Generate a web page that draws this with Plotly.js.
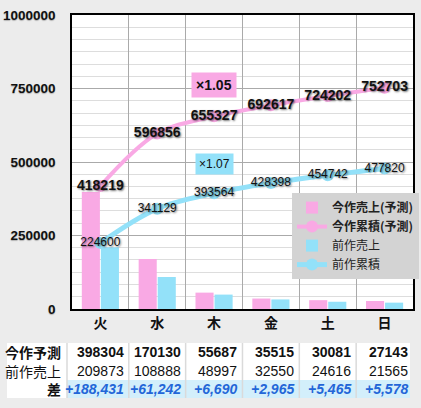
<!DOCTYPE html>
<html>
<head>
<meta charset="utf-8">
<script src="https://cdn.plot.ly/plotly-3.0.1.min.js"></script>
<style>
  html, body { margin: 0; padding: 0; background: #ececec; }
  #chart { width: 421px; height: 408px; }
</style>
</head>
<body>
<div id="chart"></div>
<script>
// 曜日
const days = ['火', '水', '木', '金', '土', '日'];

// 日別売上
const salesNow = [398304, 170130, 55687, 35515, 30081, 27143];
const salesPrev = [209873, 108888, 48997, 32550, 24616, 21565];

// 累積
const cumNow = [418219, 596856, 655327, 692617, 724202, 752703];
const cumPrev = [224600, 341129, 393564, 428398, 454742, 477820];

// 表の行ラベル
const rowLabels = ['今作予測', '前作売上', '差'];

const PINK = '#f9a9e4';
const CYAN = '#93e1f9';
const BLUE_TXT = '#2366d8';
const FONT = 'Liberation Sans, Arial, Noto Sans CJK JP, sans-serif';
const CJK = 'Noto Sans CJK JP, sans-serif';
const SHADOW = '1px 1px 2px rgba(0,0,0,0.55)';

const diff = salesNow.map((v, i) => v - salesPrev[i]);

const traces = [
  {
    type: 'bar',
    name: '<b>今作売上(予測)</b>',
    x: days,
    y: salesNow,
    marker: { color: PINK, line: { width: 0 } },
  },
  {
    type: 'scatter',
    mode: 'lines+markers+text',
    name: '<b>今作累積(予測)</b>',
    x: days,
    y: cumNow,
    text: cumNow.map(String),
    textposition: 'middle center',
    textfont: { family: FONT, size: 14, weight: 'bold', color: '#111', shadow: SHADOW },
    line: { color: PINK, width: 4, shape: 'spline', smoothing: 1 },
    marker: { color: PINK, size: 12 },
    cliponaxis: false,
  },
  {
    type: 'bar',
    name: '前作売上',
    x: days,
    y: salesPrev,
    marker: { color: CYAN, line: { width: 0 } },
  },
  {
    type: 'scatter',
    mode: 'lines+markers+text',
    name: '前作累積',
    x: days,
    y: cumPrev,
    text: cumPrev.map(String),
    textposition: 'middle center',
    textfont: { family: FONT, size: 12, color: '#111', shadow: SHADOW },
    line: { color: CYAN, width: 5, shape: 'spline', smoothing: 1 },
    marker: { color: CYAN, size: 12 },
    cliponaxis: false,
  },
];

// ----- 下の表（注釈で組む） -----
// 行の縦位置（paper座標）
const rowY = [0.1201, 0.0718, 0.0235];
const rowCells = [
  salesNow.map(v => '<b>' + v + '</b>'),
  salesPrev.map(String),
  diff.map(v => '<b><i>+' + v.toLocaleString('en-US') + '</i></b>'),
];
const rowColor = ['#111', '#111', BLUE_TXT];

const tableAnn = [];
rowLabels.forEach((lab, r) => {
  tableAnn.push({
    xref: 'x', yref: 'paper', x: -0.5, y: rowY[r],
    xanchor: 'right', yanchor: 'middle', xshift: -9, showarrow: false,
    text: r === 1 ? lab : '<b>' + lab + '</b>',
    font: { family: CJK, size: 14, color: '#111' },
  });
  rowCells[r].forEach((t, i) => {
    tableAnn.push({
      xref: 'x', yref: 'paper', x: i + 0.5, y: rowY[r],
      xanchor: 'right', yanchor: 'middle', xshift: -3, showarrow: false,
      text: t,
      font: { family: FONT, size: 14, color: rowColor[r] },
    });
  });
});

const tableShapes = [
  { type: 'rect', xref: 'paper', yref: 'paper', x0: 0, x1: 0.9926, y0: 0, y1: 0.1436,
    fillcolor: 'white', line: { width: 0 } },
  { type: 'rect', xref: 'paper', yref: 'paper', x0: 0.1478, x1: 0.9926, y0: 0, y1: 0.047,
    fillcolor: '#d3effb', line: { width: 0 } },
  { type: 'line', xref: 'paper', yref: 'paper', x0: 0.1478, x1: 0.1478, y0: 0, y1: 0.1436,
    line: { color: '#dadada', width: 1.5 } },
].concat(days.slice(0, -1).map((_, i) => ({
  type: 'line', xref: 'x', yref: 'paper', x0: i + 0.5, x1: i + 0.5, y0: 0, y1: 0.1436,
  line: { color: '#dadada', width: 1.5 },
})));

const layout = {
  width: 421,
  height: 408,
  paper_bgcolor: '#ececec',
  plot_bgcolor: 'white',
  margin: { l: 7, r: 8, t: 15, b: 10, autoexpand: false },
  barmode: 'group',
  bargap: 0.33,
  bargroupgap: 0.05,
  showlegend: true,
  font: { family: FONT, color: '#111' },
  xaxis: {
    domain: [0.16, 1],
    type: 'category',
    range: [-0.5, 5.5],
    autorange: false,
    automargin: false,
    tickson: 'boundaries',
    showgrid: true,
    gridcolor: '#aaaaaa',
    gridwidth: 1,
    ticks: '',
    showline: true,
    mirror: true,
    linecolor: '#000',
    linewidth: 1.5,
    tickfont: { family: CJK, size: 14, weight: 'bold', color: '#111' },
  },
  yaxis: {
    domain: [0.2324, 1],
    range: [0, 1000000],
    autorange: false,
    automargin: false,
    dtick: 250000,
    tickformat: 'd',
    showgrid: true,
    gridcolor: '#aaaaaa',
    gridwidth: 1,
    zeroline: false,
    showline: true,
    mirror: true,
    linecolor: '#000',
    linewidth: 1.5,
    ticks: '',
    ticklabelstandoff: 12,
    tickfont: { family: FONT, size: 13.5, weight: 'bold', color: '#111', shadow: '0px 1px 1px rgba(0,0,0,0.25)' },
    minor: { dtick: 250000 / 6, showgrid: true, gridcolor: '#dddddd', gridwidth: 1 },
  },
  legend: {
    x: 0.702, xanchor: 'left',
    y: 0.535, yanchor: 'top',
    bgcolor: '#d3d3d3',
    borderwidth: 0,
    font: { family: CJK, size: 12, color: '#222' },
    traceorder: 'normal',
    itemwidth: 30,
    tracegroupgap: 0,
  },
  shapes: tableShapes,
  annotations: [
    {
      x: '木', y: 763600, xref: 'x', yref: 'y',
      text: '<b>×1.05</b>', showarrow: false,
      font: { family: FONT, size: 14, color: '#111' },
      bgcolor: PINK, borderpad: 4,
    },
    {
      x: '木', y: 491500, xref: 'x', yref: 'y',
      text: '×1.07', showarrow: false,
      font: { family: FONT, size: 12, color: '#111' },
      bgcolor: CYAN, borderpad: 3,
    },
  ].concat(tableAnn),
};

Plotly.newPlot('chart', traces, layout, { displayModeBar: false });
</script>
</body>
</html>
